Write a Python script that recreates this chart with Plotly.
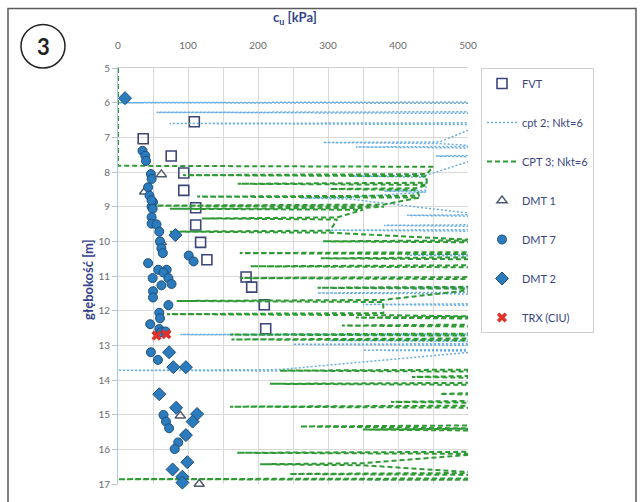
import plotly.graph_objects as go

# ---------------- data ----------------
fvt_cu = [109, 36, 76, 94, 94, 111, 111, 118, 127, 183, 191, 209, 211]
fvt_d = [6.55, 7.04, 7.54, 8.03, 8.53, 9.03, 9.53, 10.03, 10.53, 11.03, 11.32, 11.83, 12.52]

cpt2_cu = [520, 0, 520, 520, 55, 520, 520, 74, 520, 460, 293, 460, 520, 340, 520,
           520, 454, 520, 440, 330, 440, 440, 380, 440, 330, 260, 330, 520, 413, 520,
           520, 380, 520, 520, 300, 520, 520, 413, 520, 520, 285, 520, 520, 285, 520,
           520, 350, 520, 520, 89, 520, 520, 300, 520, 520, 250, 520, 520, 350, 520,
           230, 0, 230]
cpt2_d = [5.98, 6.00, 6.02, 6.26, 6.28, 6.31, 6.58, 6.60, 6.63, 7.13, 7.15, 7.18, 7.26, 7.28, 7.31,
          7.52, 7.54, 7.57, 8.10, 8.12, 8.15, 8.53, 8.55, 8.58, 8.73, 8.75, 8.78, 9.23, 9.25, 9.28,
          9.52, 9.54, 9.57, 9.66, 9.68, 9.71, 10.38, 10.40, 10.43, 11.32, 11.34, 11.37, 11.47, 11.49, 11.52,
          11.80, 11.82, 11.85, 12.67, 12.69, 12.72, 12.84, 12.86, 12.89, 12.95, 12.97, 13.00, 13.12, 13.14, 13.17,
          13.70, 13.72, 13.74]

cpt3_cu = [0, 0, 450,
           441, 93, 441, 441, 171, 441, 427, 303, 427, 430, 113, 430,
           380, 55, 380, 350, 74, 350, 313, 120, 313, 303, 74, 303,
           520, 293, 520, 520, 174, 520, 520, 290, 520, 520, 189, 520,
           520, 174, 520, 520, 285, 520, 379, 84, 379, 379, 70, 379,
           520, 340, 520, 520, 320, 520, 520, 160, 520, 520, 162, 520,
           520, 231, 520, 520, 420, 520, 520, 217, 520, 520, 460, 520,
           520, 390, 520, 520, 160, 520, 520, 260, 520, 520, 350, 520,
           520, 170, 520, 350, 203, 350, 520, 245, 520, 520, 0, 520]
cpt3_d = [5.00, 7.82, 7.85,
          8.06, 8.09, 8.12, 8.31, 8.34, 8.37, 8.47, 8.49, 8.52, 8.68, 8.71, 8.74,
          8.94, 8.97, 9.00, 9.04, 9.06, 9.09, 9.31, 9.34, 9.37, 9.69, 9.72, 9.75,
          9.97, 10.00, 10.03, 10.31, 10.34, 10.37, 10.46, 10.49, 10.52, 10.69, 10.72, 10.75,
          11.03, 11.06, 11.09, 11.31, 11.34, 11.37, 11.69, 11.72, 11.75, 12.07, 12.10, 12.13,
          12.17, 12.20, 12.23, 12.40, 12.43, 12.46, 12.66, 12.69, 12.72, 12.80, 12.83, 12.86,
          13.70, 13.73, 13.76, 13.88, 13.91, 13.94, 14.08, 14.11, 14.14, 14.37, 14.40, 14.43,
          14.60, 14.63, 14.66, 14.74, 14.77, 14.80, 15.31, 15.34, 15.37, 15.40, 15.43, 15.46,
          16.07, 16.10, 16.13, 16.40, 16.43, 16.46, 16.68, 16.71, 16.74, 16.84, 16.86, 16.88]

dmt1_cu = [62, 38, 62, 89, 116]
dmt1_d = [8.07, 8.57, 10.03, 15.03, 17.0]

dmt7_cu = [35, 39, 40, 47, 48, 43, 45, 50, 48, 48, 49.5, 48, 48, 55, 59, 60, 62, 64, 43,
           101, 108, 57.5, 69.5, 49.5, 65, 72, 76.5, 62, 50, 50, 72, 59, 60, 46, 59, 62, 68,
           47, 57, 65, 68.6, 73, 86, 81, 97]
dmt7_d = [7.39, 7.53, 7.68, 8.06, 8.20, 8.44, 8.68, 8.87, 9.00, 8.82, 9.06, 9.30, 9.49, 9.51,
          9.72, 10.00, 10.20, 10.34, 10.63, 10.41, 10.58, 10.82, 10.82, 11.06, 10.90, 11.06,
          11.23, 11.27, 11.44, 11.62, 11.84, 12.06, 12.22, 12.39, 12.53, 12.62, 12.60,
          13.20, 13.42, 15.01, 15.20, 15.39, 15.80, 15.99, 15.59]

dmt2_cu = [10, 82, 73, 79, 97, 59, 83, 113, 106.6, 97, 99, 78, 92, 92]
dmt2_d = [5.87, 9.82, 13.20, 13.63, 13.63, 14.41, 14.80, 14.98, 15.20, 15.59, 16.37, 16.58, 16.79, 16.96]

trx_cu = [55, 69]
trx_d = [12.72, 12.68]

x_ticks = [0, 100, 200, 300, 400, 500]
y_ticks = [5, 6, 7, 8, 9, 10, 11, 12, 13, 14, 15, 16, 17]

# ---------------- layout helpers ----------------
W, H = 644, 502
L, R, T, B = 118, 468, 68, 488


def px(x):
    return (x - L) / (R - L)


def py(y):
    return (B - y) / (B - T)


FONT = "Lato"
BLUE = "#2b7bbd"
EDGE = "#1d4f7c"
LEGTXT = "#3b4680"

fig = go.Figure()

fig.add_trace(go.Scatter(x=fvt_cu, y=fvt_d, mode="markers", name="FVT",
                         marker=dict(symbol="square-open", size=10, color="#3c4677",
                                     line=dict(width=1.6)),
                         legendgroup="a", cliponaxis=False))
fig.add_trace(go.Scatter(x=cpt2_cu, y=cpt2_d, mode="lines", name="cpt 2; Nkt=6",
                         line=dict(color="#6aaee0", width=1.5, dash="2px,2px"),
                         legendgroup="b"))
fig.add_trace(go.Scatter(x=cpt3_cu, y=cpt3_d, mode="lines", name="CPT 3; Nkt=6",
                         line=dict(color="#2f9a36", width=2, dash="5px,3px"),
                         legendgroup="c"))
fig.add_trace(go.Scatter(x=dmt1_cu, y=dmt1_d, mode="markers", name="DMT 1",
                         marker=dict(symbol="triangle-up-open", size=9, color="#4f5a6e",
                                     line=dict(width=1.4)),
                         legendgroup="d", cliponaxis=False))
fig.add_trace(go.Scatter(x=dmt7_cu, y=dmt7_d, mode="markers", name="DMT 7",
                         marker=dict(symbol="circle", size=9, color=BLUE,
                                     line=dict(color=EDGE, width=1)),
                         legendgroup="e", cliponaxis=False))
fig.add_trace(go.Scatter(x=dmt2_cu, y=dmt2_d, mode="markers", name="DMT 2",
                         marker=dict(symbol="diamond", size=10, color=BLUE,
                                     line=dict(color=EDGE, width=1)),
                         legendgroup="f", cliponaxis=False))
fig.add_trace(go.Scatter(x=trx_cu, y=trx_d, mode="markers", name="TRX (CIU)",
                         marker=dict(symbol="x", size=9, color="#e0322a",
                                     line=dict(width=0)),
                         legendgroup="g", cliponaxis=False))

fig.update_layout(
    width=W, height=H,
    margin=dict(l=L, r=W - R, t=T, b=H - B),
    paper_bgcolor="white", plot_bgcolor="white",
    font=dict(family=FONT, size=10, color="#595959"),
    showlegend=True,
    legend=dict(x=px(481), y=1.0, xanchor="left", yanchor="top",
                bgcolor="white", bordercolor="#d0d0d0", borderwidth=1,
                font=dict(family=FONT, size=11, color=LEGTXT),
                traceorder="grouped", tracegroupgap=20,
                itemwidth=30),
    xaxis=dict(range=[0, 500], side="top", tickvals=x_ticks,
               showgrid=True, gridcolor="#d9d9d9", gridwidth=1,
               minor=dict(dtick=50, showgrid=True, gridcolor="#d9d9d9"),
               zeroline=False, showline=True, linecolor="#cfcfcf",
               ticks="", ticklabelstandoff=14,
               tickfont=dict(family=FONT, size=10, color="#6a6a6a")),
    yaxis=dict(range=[17, 5], tickvals=y_ticks,
               showgrid=True, gridcolor="#d9d9d9", gridwidth=1,
               zeroline=False, showline=True, linecolor="#a9c9e6",
               ticks="outside", ticklen=5, tickcolor="#bfbfbf",
               tickfont=dict(family=FONT, size=10, color="#6a6a6a")),
)

shapes = [
    dict(type="rect", xref="paper", yref="paper",
         x0=px(8), x1=px(636), y0=py(512), y1=py(8),
         line=dict(color="#5a5a5a", width=1.5), layer="below"),
    dict(type="circle", xref="paper", yref="paper",
         x0=px(21), x1=px(65), y0=py(68), y1=py(24),
         line=dict(color="#222222", width=1.5)),
]
fig.update_layout(shapes=shapes)

fig.add_annotation(x=px(43), y=py(46), xref="paper", yref="paper",
                   xanchor="center", yanchor="middle",
                   text="<b>3</b>", showarrow=False,
                   font=dict(family=FONT, size=22, color="#222222"))
fig.add_annotation(x=px(295), y=py(18), xref="paper", yref="paper",
                   xanchor="center", yanchor="middle",
                   text="<b>c<sub>u</sub> [kPa]</b>", showarrow=False,
                   font=dict(family=FONT, size=13, color="#34438c"))
fig.add_annotation(x=px(88), y=py(282), xref="paper", yref="paper",
                   xanchor="center", yanchor="middle",
                   text="<b>głębokość [m]</b>", showarrow=False, textangle=-90,
                   font=dict(family=FONT, size=13, color="#34438c"))

fig.write_html("out.html")
